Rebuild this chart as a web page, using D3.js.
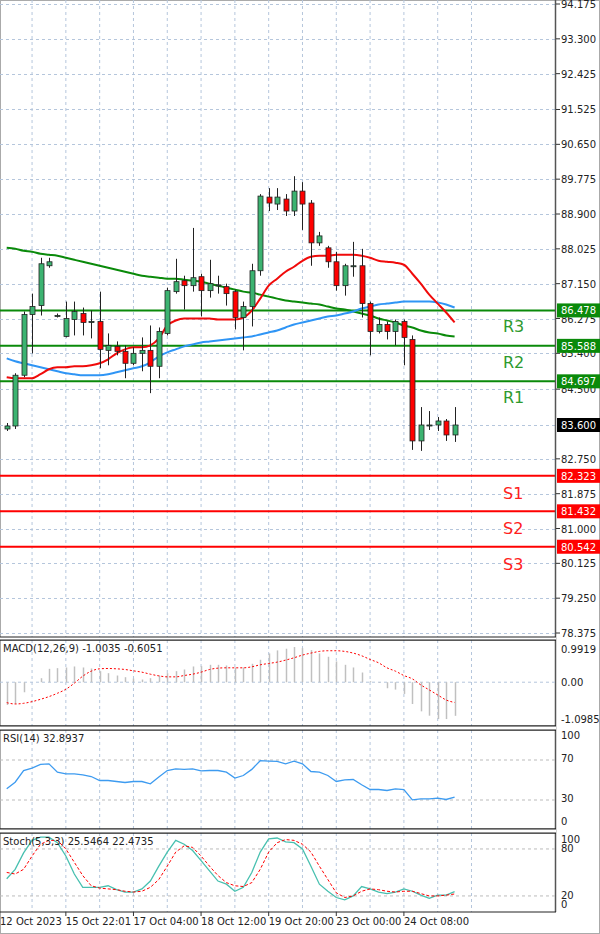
<!DOCTYPE html>
<html><head><meta charset="utf-8">
<script src="https://cdn.jsdelivr.net/npm/d3@7"></script>
<style>body{margin:0;background:#fff}svg{display:block}text{font-family:"DejaVu Sans",sans-serif}</style>
</head><body><svg id="c" width="600" height="934"></svg>
<script>
const opens  =[83.5,83.575,84.85,86.375,86.6,87.6,86.35,85.825,86.25,86.4,86.2,86.2,85.475,85.575,85.45,85.15,85.4,85.475,85.075,85.9,86.95,87.225,87.1,87.325,86.975,87.12,87.075,86.95,86.3,86.575,87.475,89.325,89.15,89.275,88.975,89.475,89.175,88.175,88.05,87.7,87.1,87.6,87.6,86.65,85.95,86.125,85.95,86.2,85.75,83.2,83.6,83.6,83.7,83.35];
const closes =[83.575,84.85,86.375,86.575,87.65,87.7,86.35,86.275,86.45,86.175,86.2,85.5,85.6,85.45,85.15,85.4,85.475,85.075,85.95,86.975,87.2,87.1,87.3,86.975,87.15,87.12,86.9,86.3,86.575,87.475,89.35,89.175,89.325,88.975,89.475,89.15,88.175,88.35,87.7,87.1,87.6,87.6,86.65,85.95,86.125,85.95,86.2,85.8,83.2,83.6,83.6,83.7,83.35,83.6];
const highs  =[83.65,84.9,86.45,86.9,87.8,87.8,86.4,86.7,86.7,86.55,86.475,86.95,85.9,85.7,85.6,85.55,85.8,86.1,86.05,87.05,87.775,87.35,88.55,87.4,87.75,87.35,87.15,87.0,86.7,87.65,89.4,89.55,89.55,89.4,89.85,89.7,89.25,88.45,88.1,87.95,87.65,88.2,88.025,86.7,86.3,86.2,86.25,86.25,85.85,84.05,83.95,83.8,83.75,84.05];
const lows   =[83.45,83.5,84.8,85.4,86.35,87.55,86.3,85.8,85.85,85.85,85.775,85.025,85.1,85.35,84.775,85.1,84.95,84.4,84.775,85.85,86.9,86.5,86.95,86.325,86.8,86.9,86.6,86.0,85.475,86.075,87.35,88.975,89.0,88.85,88.85,88.5,87.6,88.1,87.55,86.975,86.85,87.325,86.3,85.35,85.9,85.75,85.6,85.1,82.975,82.95,83.475,83.45,83.2,83.175];
const maRed  =[84.8,84.775,84.775,84.775,84.875,85.0,85.05,85.05,85.075,85.075,85.1,85.15,85.25,85.4,85.5,85.55,85.55,85.6,85.775,86.1,86.225,86.275,86.275,86.275,86.275,86.25,86.25,86.25,86.3,86.475,86.775,87.1,87.275,87.45,87.575,87.725,87.825,87.85,87.85,87.875,87.875,87.875,87.85,87.8,87.725,87.7,87.675,87.625,87.4,87.15,86.875,86.65,86.425,86.175];
const maBlue =[85.275,85.2,85.15,85.1,85.05,85.0,84.95,84.9,84.875,84.85,84.85,84.85,84.875,84.925,84.975,85.025,85.075,85.175,85.325,85.425,85.5,85.575,85.625,85.675,85.7,85.725,85.75,85.775,85.8,85.825,85.875,85.925,85.975,86.05,86.125,86.175,86.225,86.275,86.325,86.35,86.4,86.45,86.525,86.575,86.625,86.65,86.675,86.7,86.7,86.7,86.7,86.675,86.625,86.55];
const maGreen=[88.05,88.025,87.975,87.95,87.9,87.875,87.85,87.8,87.75,87.7,87.65,87.6,87.55,87.5,87.45,87.4,87.35,87.325,87.3,87.275,87.275,87.25,87.225,87.2,87.15,87.1,87.05,87.0,86.95,86.925,86.875,86.825,86.775,86.725,86.7,86.675,86.65,86.625,86.575,86.525,86.5,86.45,86.4,86.35,86.275,86.225,86.175,86.1,86.05,85.975,85.925,85.9,85.85,85.825];
const macdHist=[-0.68,-0.65,-0.3,0.0,0.12,0.4,0.42,0.44,0.47,0.44,0.41,0.33,0.27,0.2,0.15,0.11,0.08,0.12,0.2,0.27,0.33,0.38,0.47,0.48,0.52,0.52,0.5,0.44,0.44,0.55,0.67,0.86,0.95,1.0,1.05,1.02,0.96,0.86,0.76,0.62,0.52,0.44,0.29,0.03,-0.02,-0.18,-0.22,-0.35,-0.65,-0.87,-1.0,-1.1,-1.1,-1.0035];
const macdSig=[-0.61,-0.65,-0.63,-0.58,-0.51,-0.43,-0.33,-0.21,-0.03,0.18,0.33,0.40,0.41,0.40,0.38,0.34,0.30,0.24,0.19,0.16,0.16,0.20,0.24,0.30,0.38,0.42,0.43,0.43,0.43,0.46,0.52,0.56,0.60,0.66,0.73,0.81,0.87,0.92,0.94,0.94,0.92,0.87,0.79,0.68,0.58,0.43,0.33,0.20,0.10,-0.08,-0.23,-0.38,-0.53,-0.6051];
const rsi=[41.2,47.8,59.5,61.9,65.6,66.2,57.9,56.2,56.2,55.2,53.5,49.5,49.5,48.5,47.5,48.5,48.5,46.2,52.9,59.5,61.2,60.6,61.2,59.2,59.5,59.5,57.9,51.9,54.5,60.6,69.3,68.9,68.6,66.2,68.9,66.2,58.5,57.9,54.5,48.5,50.2,50.5,45.2,40.5,40.5,39.5,41.2,40.5,30.1,31.1,31.1,31.8,30.5,32.89];
const stochK=[42,54,75,91,95,95,88,71,48,31,31,31,33,28,25,25,29,39,58,76,91,86,78,65,52,39,35,26,31,50,76,93,94,89,88,80,58,35,26,18,15,20,32,29,25,23,25,29,26,21,17,21,21,25.5];
const stochD=[50,48,54,71,86,91,91,80,63,46,33,30,29,28,26,25,26,31,41,58,76,84,82,71,58,46,37,33,32,37,54,76,88,92,91,86,76,58,41,24,18,20,26,29,28,26,25,26,26,23,20,20,21,22.5];
const priceTicks=["94.175","93.300","92.425","91.525","90.650","89.775","88.900","88.025","87.150","86.275","85.400","84.500","82.750","81.875","81.000","80.125","79.250","78.375"];
const resLevels=[["R3",86.478],["R2",85.588],["R1",84.697]];
const supLevels=[["S1",82.323],["S2",81.432],["S3",80.542]];
const lastPrice=83.600;
const timeLabels=["12 Oct 2023","15 Oct 22:01","17 Oct 04:00","18 Oct 12:00","19 Oct 20:00","23 Oct 00:00","24 Oct 08:00"];
const timeIdx=[-1,7,15,23,31,39,47];

const svg=d3.select("#c");
const W=555, AX=558;
const x=d3.scaleLinear().domain([0,53]).range([6.7,454.6]);
const y=d3.scaleLinear().domain([94.175,83.6]).range([4,425]);
const gridC="#b5c6dc";
svg.append("rect").attr("width",600).attr("height",934).attr("fill","#fff");
svg.append("rect").attr("x",0.5).attr("y",0.5).attr("width",599).attr("height",933).attr("fill","none").attr("stroke","#aaa");
const panels=[[0,637],[640,726],[730,829],[833,912]];
// vertical grid
const vg=d3.range(-1,14).map(k=>x(4*k+3));
panels.forEach(([t,b])=>{
  svg.append("g").selectAll("line").data(vg).join("line").attr("x1",d=>d).attr("x2",d=>d).attr("y1",t).attr("y2",b)
   .attr("stroke",gridC).attr("stroke-dasharray","3,3");
});
// horizontal price grid
const main=svg.append("g");
main.selectAll("line.h").data(priceTicks.concat(["83.600"])).join("line").attr("x1",0).attr("x2",W)
 .attr("y1",d=>Math.round(y(+d))+0.5).attr("y2",d=>Math.round(y(+d))+0.5).attr("stroke",gridC).attr("stroke-dasharray","3,3");
// levels
function level(arr,col){
  arr.forEach(([n,v],k)=>{
    main.append("line").attr("x1",0).attr("x2",W).attr("y1",y(v)).attr("y2",y(v)).attr("stroke",col).attr("stroke-width",2);
  });
}
level(resLevels,"#0a8a0a"); level(supLevels,"#ff0000");
// MAs
const line=d3.line().x((d,i)=>x(i)).y(d=>y(d)).curve(d3.curveMonotoneX);
[[maGreen,"#0a8a0a"],[maBlue,"#2f95f5"],[maRed,"#f00a0a"]].forEach(([a,c])=>
 main.append("path").attr("d",line(a)).attr("fill","none").attr("stroke",c).attr("stroke-width",2));
// candles
const cd=opens.map((o,i)=>({o,c:closes[i],h:highs[i],l:lows[i],i}));
const cg=main.append("g").selectAll("g").data(cd).join("g");
cg.append("line").attr("x1",d=>Math.round(x(d.i))+0.5).attr("x2",d=>Math.round(x(d.i))+0.5)
 .attr("y1",d=>y(d.h)).attr("y2",d=>y(d.l)).attr("stroke","#222");
cg.append("rect").attr("x",d=>Math.round(x(d.i))-2).attr("width",5)
 .attr("y",d=>y(Math.max(d.o,d.c))).attr("height",d=>Math.max(1,Math.abs(y(d.o)-y(d.c))))
 .attr("fill",d=>d.c>=d.o?"#3cb371":"#ff0000").attr("stroke","#222").attr("stroke-width",0.8);
// level labels
resLevels.forEach(([n,v])=>main.append("text").attr("x",503).attr("y",y(v)+22).text(n).attr("font-size",16).attr("fill","#2e9a2e").attr("font-family","Liberation Sans, sans-serif"));
supLevels.forEach(([n,v])=>main.append("text").attr("x",503).attr("y",y(v)+23).text(n).attr("font-size",16).attr("fill","#ff2020").attr("font-family","Liberation Sans, sans-serif"));
// axis
svg.append("line").attr("x1",AX-2.5).attr("x2",AX-2.5).attr("y1",0).attr("y2",912).attr("stroke","#555").attr("stroke-width",1.5);
const ax=svg.append("g").attr("font-size",10).attr("fill","#222");
priceTicks.forEach(t=>{
  const yy=y(+t);
  ax.append("line").attr("x1",AX-2).attr("x2",AX+2).attr("y1",yy).attr("y2",yy).attr("stroke","#333");
  ax.append("text").attr("x",AX+3).attr("y",yy+4).text(t);
});
function box(v,bg,txt){
  const yy=y(v);
  ax.append("rect").attr("x",AX-1).attr("y",yy-7).attr("width",44).attr("height",14).attr("fill",bg);
  ax.append("text").attr("x",AX+3).attr("y",yy+4).text(txt).attr("fill","#fff");
}
resLevels.forEach(([n,v])=>box(v,"#0a8a0a",v.toFixed(3)));
supLevels.forEach(([n,v])=>box(v,"#ff0000",v.toFixed(3)));
box(lastPrice,"#000",lastPrice.toFixed(3));
// panel borders
panels.slice(1).forEach(([t,b])=>{
  svg.append("line").attr("x1",0).attr("x2",AX-2).attr("y1",t).attr("y2",t).attr("stroke","#222");
  svg.append("line").attr("x1",0).attr("x2",AX-2).attr("y1",b).attr("y2",b).attr("stroke","#222");
});
svg.append("rect").attr("x",0).attr("y",726).attr("width",AX-2).attr("height",4).attr("fill","#fff");
svg.append("rect").attr("x",0).attr("y",829).attr("width",AX-2).attr("height",4).attr("fill","#fff");
[726,730,829,833].forEach(v=>svg.append("line").attr("x1",0).attr("x2",AX-2).attr("y1",v).attr("y2",v).attr("stroke","#222"));
svg.append("rect").attr("x",0).attr("y",637).attr("width",AX-2).attr("height",3).attr("fill","#fff");
[637,640].forEach(v=>svg.append("line").attr("x1",0).attr("x2",AX-2).attr("y1",v).attr("y2",v).attr("stroke","#222"));
// MACD
const ym=d3.scaleLinear().domain([-1.0985,0.9919]).range([719,649]);
svg.append("line").attr("x1",0).attr("x2",W).attr("y1",ym(0)).attr("y2",ym(0)).attr("stroke",gridC).attr("stroke-dasharray","3,3");
svg.append("g").selectAll("line").data(macdHist).join("line").attr("x1",(d,i)=>Math.round(x(i))+0.5).attr("x2",(d,i)=>Math.round(x(i))+0.5)
 .attr("y1",ym(0)).attr("y2",d=>Math.min(724,ym(d))).attr("stroke","#c0c0c0").attr("stroke-width",1.5);
svg.append("path").attr("d",d3.line().x((d,i)=>x(i)).y(d=>ym(d)).curve(d3.curveMonotoneX)(macdSig)).attr("fill","none").attr("stroke","#f00").attr("stroke-dasharray","2,2");
svg.append("text").attr("x",3).attr("y",652).text("MACD(12,26,9) -1.0035 -0.6051").attr("font-size",10).attr("fill","#222");
[["0.9919",0.9919],["0.00",0],["-1.0985",-1.0985]].forEach(([t,v])=>ax.append("text").attr("x",AX+3).attr("y",ym(v)+4).text(t));
// RSI
const yr=d3.scaleLinear().domain([0,100]).range([830,730]);
[70,30].forEach(v=>svg.append("line").attr("x1",0).attr("x2",W).attr("y1",yr(v)).attr("y2",yr(v)).attr("stroke","#bbb").attr("stroke-dasharray","3,3"));
svg.append("path").attr("d",d3.line().x((d,i)=>x(i)).y(d=>yr(d))(rsi)).attr("fill","none").attr("stroke","#3d9bf0").attr("stroke-width",1.3);
svg.append("text").attr("x",3).attr("y",742).text("RSI(14) 32.8937").attr("font-size",10).attr("fill","#222");
[["100",739],["70",762],["30",802],["0",825]].forEach(([t,yy])=>ax.append("text").attr("x",AX+3).attr("y",yy).text(t));
// Stoch
const ys=d3.scaleLinear().domain([0,100]).range([911.6,833.3]);
[80,20].forEach(v=>svg.append("line").attr("x1",0).attr("x2",W).attr("y1",ys(v)).attr("y2",ys(v)).attr("stroke","#bbb").attr("stroke-dasharray","3,3"));
svg.append("path").attr("d",d3.line().x((d,i)=>x(i)).y(d=>ys(d))(stochK)).attr("fill","none").attr("stroke","#48c0b0").attr("stroke-width",1.3);
svg.append("path").attr("d",d3.line().x((d,i)=>x(i)).y(d=>ys(d))(stochD)).attr("fill","none").attr("stroke","#f00").attr("stroke-dasharray","3,2");
svg.append("text").attr("x",3).attr("y",845).text("Stoch(5,3,3) 25.5464 22.4735").attr("font-size",10).attr("fill","#222");
[["100",843],["80",852],["20",899],["0",908]].forEach(([t,yy])=>ax.append("text").attr("x",AX+3).attr("y",yy).text(t));
// time axis
timeLabels.forEach((t,k)=>{
  const xx=timeIdx[k]<0?0:x(timeIdx[k]);
  if(timeIdx[k]>=0) svg.append("line").attr("x1",xx).attr("x2",xx).attr("y1",912).attr("y2",916).attr("stroke","#333");
  svg.append("text").attr("x",xx).attr("y",925).text(t).attr("font-size",10).attr("fill","#222");
});
</script></body></html>
